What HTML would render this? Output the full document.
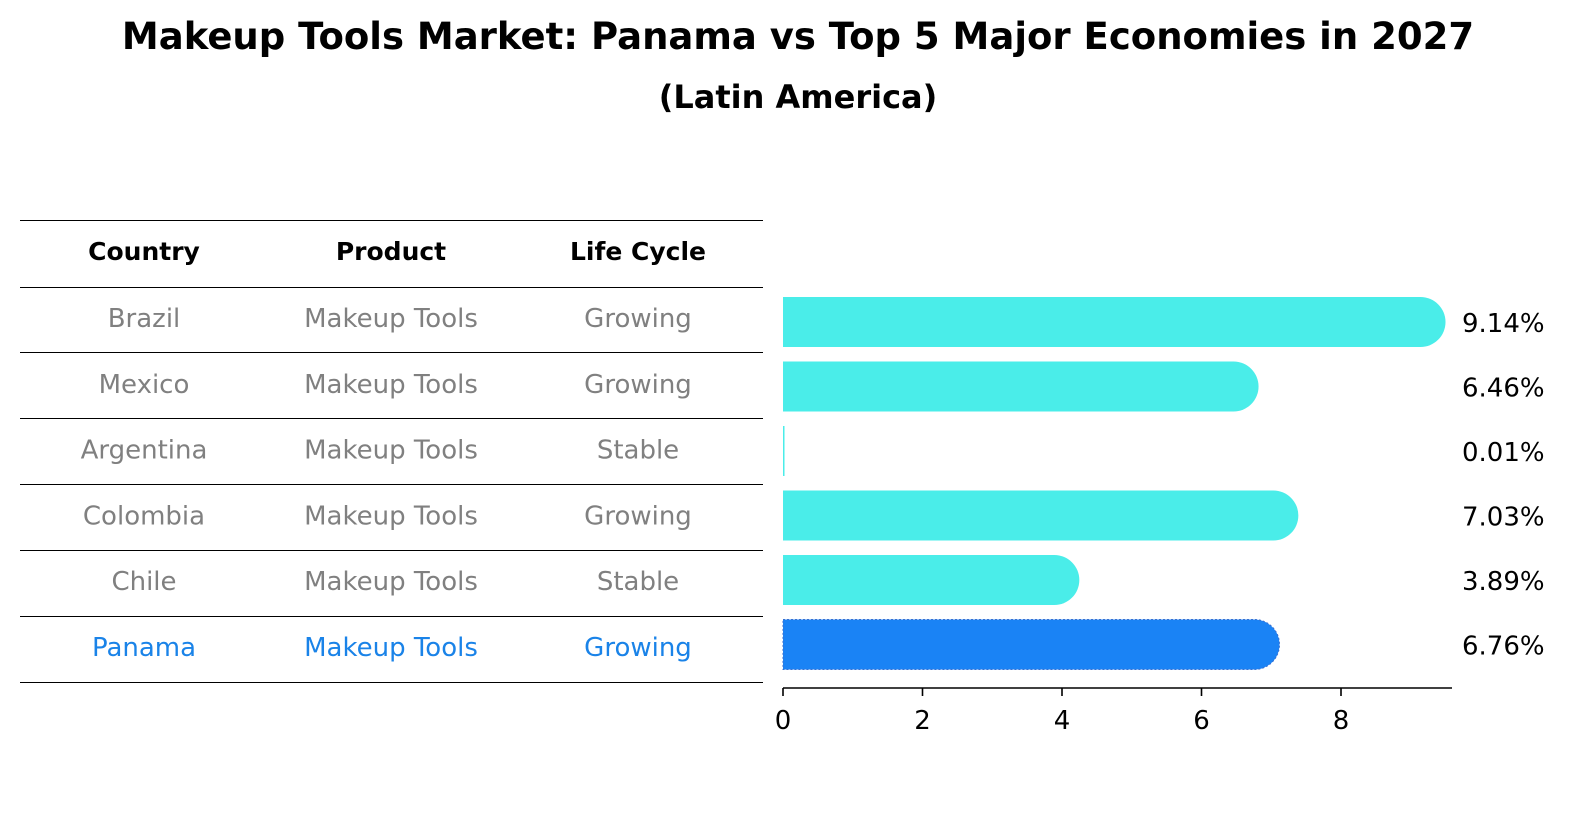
<!DOCTYPE html>
<html><head><meta charset="utf-8"><style>
body{margin:0;background:#fff;font-family:"DejaVu Sans","Liberation Sans",sans-serif;}
#wrap{position:relative;width:1586px;height:823px;overflow:hidden;}
</style></head><body>
<div id="wrap">
<svg id="svg" width="1586" height="823" style="position:absolute;left:0;top:0">
<text x="798" y="49" text-anchor="middle" font-size="37" font-weight="bold" font-family="'DejaVu Sans',sans-serif">Makeup Tools Market: Panama vs Top 5 Major Economies in 2027</text>
<text x="798" y="108" text-anchor="middle" font-size="32" font-weight="bold" font-family="'DejaVu Sans',sans-serif">(Latin America)</text>
</svg>
</div>
<script>
const countries=["Brazil","Mexico","Argentina","Colombia","Chile","Panama"];
const products=["Makeup Tools","Makeup Tools","Makeup Tools","Makeup Tools","Makeup Tools","Makeup Tools"];
const lifecycle=["Growing","Growing","Stable","Growing","Stable","Growing"];
const values=[9.14,6.46,0.01,7.03,3.89,6.76];
const valueLabels=["9.14%","6.46%","0.01%","7.03%","3.89%","6.76%"];
const ticks=[0,2,4,6,8];
const NS="http://www.w3.org/2000/svg";
const svg=document.getElementById('svg');
const x0=783,pxPer=69.75;
function xs(v){return x0+v*pxPer;}
function yRow(i){return 322+i*64.5;}
function mk(tag,attrs){const e=document.createElementNS(NS,tag);for(const k in attrs)e.setAttribute(k,attrs[k]);svg.appendChild(e);return e;}
function txt(x,y,s,attrs){const e=mk('text',Object.assign({x:x,y:y,'font-family':"'DejaVu Sans',sans-serif"},attrs));e.textContent=s;return e;}
const lineYs=[220,287,352,418,484,550,616,682];
lineYs.forEach((y,i)=>{const l=mk('line',{x1:20,x2:763,y1:y+0.5,y2:y+0.5,stroke:'#000','stroke-width':1.2,'shape-rendering':'crispEdges'});

});
const colX=[144,391,638];
["Country","Product","Life Cycle"].forEach((h,i)=>{const e=txt(colX[i],260,h,{'text-anchor':'middle','font-size':25,'font-weight':'bold'});

});
countries.forEach((c,i)=>{
 const y=327+i*65.8;const col=c==="Panama"?'#1a83e8':'#808080';
 [c,products[i],lifecycle[i]].forEach((s,j)=>{const e=txt(colX[j],y,s,{'text-anchor':'middle','font-size':26,fill:col});
 
 });
});
values.forEach((v,i)=>{
 const yc=yRow(i),h=50,r=25,xe=xs(v);const col=countries[i]==="Panama"?'#1a83f5':'#4aede9';
 const d=v<0.1?`M${x0},${yc-h/2}h${Math.max(xe-x0,1.5)}v${h}h${-Math.max(xe-x0,1.5)}z`:
 `M${x0},${yc-h/2}H${xe}A${r},${r} 0 0 1 ${xe},${yc+h/2}H${x0}Z`;
 const p=mk('path',{d:d,fill:col});
 if(countries[i]==="Panama"){p.setAttribute('stroke','#3a6fd0');p.setAttribute('stroke-dasharray','2,2');p.setAttribute('stroke-width',1);}
 
 
 const t=txt(1462,yc+10,valueLabels[i],{'font-size':26});
 
 
});
const ax=mk('line',{x1:x0,x2:1452,y1:688,y2:688,stroke:'#000','stroke-width':1.6});


ticks.forEach(t=>{const l=mk('line',{x1:xs(t),x2:xs(t),y1:688,y2:696,stroke:'#000','stroke-width':1.6});
 
 
 const e=txt(xs(t),729,String(t),{'text-anchor':'middle','font-size':26});
 
 });
</script>
</body></html>
